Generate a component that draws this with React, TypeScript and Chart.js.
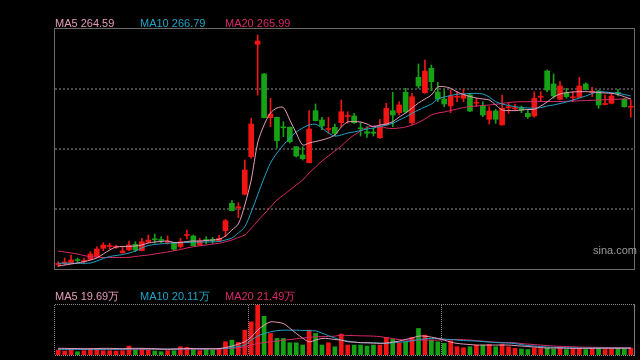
import React, { useEffect, useRef } from 'react';
import { Chart, registerables } from 'chart.js';

Chart.register(...registerables);

// ---- price data (OHLC) ----
const opens = [98.5, 100, 100.3, 103, 101.5, 103.7, 106.3, 114.7, 116.5, 115.8,
  110.3, 113, 118.7, 112.3, 121, 123.7, 123.5, 120.8, 120.7, 116.3,
  127.5, 127, 118, 123, 123, 122.3, 132.3, 159.7, 155.2, 168.7,
  206.3, 318.7, 289, 245.3, 245.7, 235.7, 235.7, 216.3, 208, 200.3,
  252.3, 243, 233.5, 235.7, 240.3, 246.5, 247, 234.7, 231.3, 230.3,
  225.3, 238, 252.3, 250.3, 270.7, 240.3, 285.7, 270.3, 294.7, 271,
  264, 257, 265.8, 264.7, 268, 259.8, 257, 243.7, 252, 238,
  255.2, 254.2, 254.7, 249.7, 247, 265.8, 292, 279, 263.7, 270.3,
  265.2, 265.7, 279, 270.8, 272, 258.5, 259.7, 270.3, 263.7, 255.8];
const highs = [101.3, 105, 108, 105, 105, 111.3, 116.3, 120.3, 119.7, 118,
  116.3, 122, 121.3, 124.7, 128, 129, 126.3, 127, 120.7, 124.7,
  133, 128, 124.7, 126.3, 125.7, 128, 143.7, 162.3, 160.3, 203,
  244.7, 328, 289.7, 264.7, 246, 241.3, 236, 216.3, 216.3, 252.3,
  259, 245.7, 245.7, 239, 263, 251.3, 249.7, 240.3, 236.3, 234.7,
  243.7, 259.7, 270.7, 261.3, 274.7, 269.7, 299, 303, 298, 280.7,
  273, 273, 271.3, 273.7, 269.7, 264.7, 261.3, 256.3, 253.7, 268,
  259.7, 259, 257, 253, 271.3, 271.3, 293, 289, 281.3, 274.7,
  271.3, 285.7, 280.3, 275.7, 272.3, 268, 269.7, 273.7, 264.7, 263];
const lows = [96.3, 98, 100, 100.3, 99, 103, 105.5, 112.3, 114, 114.7,
  109.7, 112.3, 111.3, 112, 120.3, 119.7, 120.3, 119, 112.3, 114.7,
  124, 117, 117.3, 119, 119.7, 121.7, 126.3, 152, 145.3, 168,
  204.7, 268, 245, 236.3, 215, 226.3, 220, 206, 203, 200,
  242, 233, 229.7, 227, 236.3, 239.7, 239.7, 227, 225.7, 227,
  224.7, 237.5, 236.3, 248, 250, 238, 274.7, 269.7, 272.3, 261.3,
  256.3, 250.3, 261.3, 261.3, 251.3, 256.3, 246.3, 239, 239.7, 238,
  249.7, 253, 250.3, 244.7, 245.7, 261.3, 271.3, 264.7, 263, 264.7,
  261.3, 265.3, 273, 266.3, 254.7, 258, 259, 267, 255.7, 245.7];
const closes = [99, 101, 103, 102.5, 102.3, 109, 114, 118, 117, 116.3,
  112, 118, 113, 121.3, 123, 123.2, 122.5, 121.3, 113.7, 121.3,
  128, 117.3, 122, 122.5, 122.5, 124.7, 142.3, 152.3, 155.7, 193,
  239, 322, 245.3, 249, 222.3, 235.2, 221.3, 207, 204.3, 234,
  242.3, 237, 234, 229.7, 251.3, 247, 240.3, 234.2, 229.7, 229.8,
  236.3, 254.7, 248, 258, 251, 266.3, 277, 292, 281.3, 264,
  259, 267, 266.3, 268, 252, 260.3, 248, 252, 243.7, 254.7,
  255.7, 254.7, 253, 246.3, 264.7, 266.3, 273, 267, 277, 266.3,
  265.7, 277, 273.7, 271.3, 258, 259, 267, 269.8, 256.3, 256.3];

// ---- price moving averages ----
const ma5 = [97, 98, 99, 100, 101.3, 103, 105, 109, 113, 116,
  116.5, 116.7, 117, 118, 120, 121, 121.5, 122, 120.5, 120.5,
  121.5, 122, 122, 122.5, 123, 123.7, 127, 133, 139, 158,
  183, 220, 238, 250, 255, 255.5, 243, 230, 218, 220,
  221.5, 223, 225, 228, 236, 241, 241.3, 241, 239, 236.3,
  238, 239, 241.3, 246, 250, 255, 260, 264, 268, 276,
  276.3, 274.7, 271, 268.5, 266.5, 265, 264, 263, 258, 253,
  252.5, 252.3, 253, 253.5, 253.7, 257, 261, 266, 269, 270.3,
  271, 271.3, 271.3, 271, 270.5, 270, 269.7, 268.5, 266.3, 264];
const ma10 = [99.7, 99.7, 99.7, 99.7, 99.7, 100, 102, 104.5, 106.5, 107.5,
  108.5, 110, 112, 115, 117.5, 118.5, 119.2, 119.7, 120, 120.2,
  120.5, 120.7, 121, 121, 121.2, 121.5, 123, 125, 130, 136.3,
  151, 168, 185, 200, 210, 218, 225, 231, 235, 238,
  238.7, 235, 230, 227, 228, 230, 231, 232.5, 234, 235,
  236.5, 238, 239.7, 243, 246, 249.7, 253, 256, 259, 264,
  266, 267.5, 268.7, 269, 269.5, 269.7, 269, 266, 261.3, 259,
  257.5, 256.3, 255.5, 255, 254.7, 255.5, 257, 258, 259.5, 261,
  263, 265, 267, 269.5, 271.3, 271, 270.3, 269.7, 268.5, 267];
const ma20 = [112, 111, 110, 109, 107.5, 106.3, 105.8, 105.5, 105.5, 105.5,
  105.5, 105.7, 106.5, 107.3, 108, 109, 110, 111, 112.3, 113.5,
  115, 116.3, 117.2, 118, 119, 119.7, 121.3, 123, 125.5, 128,
  134.7, 142, 149, 156, 163, 168, 173, 178, 183, 190,
  196, 202, 207, 212, 217, 223, 228, 232, 235.5, 237,
  237, 235, 234.5, 235, 236, 238, 240.5, 244, 248, 250,
  251, 252.5, 254, 255.5, 256.5, 257, 257.5, 258, 258.7, 259.5,
  260.5, 261, 261.3, 261.3, 261.5, 261.5, 261.5, 261.5, 261.5, 261.7,
  262, 262.2, 262.5, 262.7, 263, 263.2, 263.5, 263.8, 264, 264.2];

// ---- volume (万) ----
const volumes = [14.5, 11.6, 14.5, 9.6, 12.5, 19.4, 19.4, 12.5, 12.5, 11.6,
  12.5, 26.1, 14.5, 19.4, 14.5, 11.6, 9.6, 12.5, 12.5, 24.1,
  22.3, 16.5, 12.5, 16.5, 14.5, 17.4, 38.6, 43.5, 36.8, 72.5,
  96.6, 145, 113.1, 62.9, 48.4, 48.4, 35.7, 35.7, 29, 72.5,
  62.9, 29, 35.7, 24.1, 60.9, 29, 29, 29, 26.1, 29,
  29, 51.3, 45.5, 35.7, 38.6, 51.3, 77.4, 58, 43.5, 38.6,
  33.9, 41.5, 24.1, 21.2, 24.1, 29, 29, 31, 24.1, 31.9,
  24.1, 19.4, 17.4, 16, 20.3, 18.9, 20.3, 17.4, 18.9, 16,
  17.4, 20.3, 16, 17.4, 20.3, 16, 17.4, 18.9, 17.4, 20.3];
const vma5 = [19.4, 19.4, 18.9, 18.9, 18.3, 18.3, 18.9, 19.4, 19.4, 18.9,
  18.3, 19.4, 19.4, 19.4, 18.9, 18.3, 17.4, 16.8, 17.4, 18.3,
  18.9, 18.9, 18.3, 18.3, 18.3, 18.9, 21.8, 26.1, 31.9, 38.6,
  52.2, 72.5, 87, 96.6, 95.7, 91.9, 78.3, 62.9, 49.3, 38.6,
  43.5, 48.4, 47.9, 45, 43.5, 38.6, 37.7, 36.3, 35.7, 34.8,
  33.9, 34.8, 37.7, 40.6, 45.5, 49.3, 55.1, 55.1, 52.2, 48.4,
  43.5, 37.7, 33.9, 31.9, 30.5, 29, 29, 29, 29, 29,
  29, 27.6, 26.1, 24.7, 23.2, 21.8, 20.3, 20.3, 20.3, 19.7,
  19.4, 19.4, 19.4, 19.4, 19.7, 19.7, 19.7, 19.7, 19.7, 19.7];
const vma10 = [16.5, 16.5, 16.5, 16.5, 16.5, 16.5, 16.5, 16.5, 16.5, 16.8,
  16.8, 17.4, 17.4, 17.4, 17.4, 17.4, 17.4, 17.4, 17.4, 17.4,
  18, 18, 18, 18.3, 18.3, 18.3, 19.7, 21.8, 24.7, 29,
  43.5, 55.1, 62.4, 67.6, 71.1, 72.5, 72.5, 72.5, 71.6, 71.1,
  70.5, 63.8, 56.6, 49.3, 43.5, 40.6, 37.7, 35.7, 35.7, 35.7,
  34.8, 33.9, 35.7, 37.7, 38.6, 41.5, 45, 47.3, 48.4, 47.9,
  46.4, 45, 43.5, 42.1, 41.5, 40.6, 39.2, 37.7, 36.3, 35.7,
  34.8, 33.4, 30.5, 27.6, 26.1, 24.7, 23.2, 22.3, 21.8, 21.2,
  20.9, 20.3, 20.3, 20.3, 20.3, 20.3, 20.1, 20.1, 20.1, 20.1];
const vma20 = [16.5, 16.5, 16.5, 16.5, 16.5, 16.5, 16.5, 16.5, 16.5, 16.5,
  16.5, 16.5, 16.5, 16.5, 16.5, 16.5, 16.5, 16.5, 16.5, 16.5,
  16.8, 16.8, 17.1, 17.1, 17.4, 17.4, 18.3, 19.4, 20.9, 23.2,
  29, 33.4, 36.3, 38.6, 40.6, 43.5, 45, 47.3, 49.3, 51.3,
  53.1, 53.7, 54.2, 55.1, 58, 57.1, 56.6, 56, 55.7, 55.1,
  53.7, 50.8, 47.9, 45, 43.5, 43.5, 43.5, 43.5, 43.5, 43.5,
  44.4, 45, 45.5, 45, 43.5, 42.1, 40.6, 38.6, 37.7, 36.8,
  36.3, 35.7, 33.4, 31.9, 30.5, 29, 27.6, 26.1, 25.2, 24.7,
  24.1, 23.2, 22.9, 22.6, 22.3, 22, 21.8, 21.8, 21.5, 21.5];

// month boundaries (index of first day of new month)
const monthStarts = [30, 60];

const legendPrice = ['MA5 264.59', 'MA10 266.79', 'MA20 265.99'];
const legendVolume = ['MA5 19.69万', 'MA10 20.11万', 'MA20 21.49万'];

const RED = '#f31414';
const GREEN = '#15a315';
const C5 = '#e79bbb';
const C10 = '#1fa3c6';
const C20 = '#d9296a';

const labels = opens.map((_, i) => String(i + 1));
const up = opens.map((o, i) => closes[i] >= o);
const candleColors = up.map((u) => (u ? RED : GREEN));

const lineDs = (data: number[], color: string) => ({
  type: 'line' as const,
  data,
  borderColor: color,
  borderWidth: 1,
  pointRadius: 0,
  tension: 0.3,
  fill: false,
});

export default function App() {
  const priceRef = useRef<HTMLCanvasElement>(null);
  const volRef = useRef<HTMLCanvasElement>(null);

  useEffect(() => {
    const priceFrame = {
      id: 'priceFrame',
      beforeDatasetsDraw(chart: any) {
        const { ctx, chartArea: a, scales } = chart;
        ctx.save();
        ctx.strokeStyle = '#474747';
        ctx.lineWidth = 2;
        ctx.setLineDash([2, 2]);
        [154, 214, 274].forEach((v) => {
          const y = Math.round(scales.y.getPixelForValue(v));
          ctx.beginPath();
          ctx.moveTo(a.left, y);
          ctx.lineTo(a.right, y);
          ctx.stroke();
        });
        ctx.restore();
      },
      afterDraw(chart: any) {
        const { ctx, chartArea: a } = chart;
        ctx.save();
        ctx.strokeStyle = '#6a6a6a';
        ctx.lineWidth = 1;
        ctx.strokeRect(a.left - 0.5, a.top - 0.5, a.right - a.left + 1, a.bottom - a.top + 1);
        ctx.restore();
      },
    };

    const volFrame = {
      id: 'volFrame',
      beforeDatasetsDraw(chart: any) {
        const { ctx, chartArea: a, scales } = chart;
        ctx.save();
        ctx.strokeStyle = '#8a8a8a';
        ctx.lineWidth = 1;
        ctx.setLineDash([1, 1]);
        monthStarts.forEach((m) => {
          const x = Math.round((scales.x.getPixelForValue(m - 1) + scales.x.getPixelForValue(m)) / 2) + 0.5;
          ctx.beginPath();
          ctx.moveTo(x, a.top);
          ctx.lineTo(x, a.bottom);
          ctx.stroke();
        });
        ctx.restore();
      },
      afterDraw(chart: any) {
        const { ctx, chartArea: a } = chart;
        ctx.save();
        ctx.strokeStyle = '#8a8a8a';
        ctx.lineWidth = 1;
        ctx.setLineDash([1, 1]);
        ctx.beginPath();
        ctx.moveTo(a.left, a.top - 0.5);
        ctx.lineTo(a.right, a.top - 0.5);
        ctx.moveTo(a.left, a.bottom + 0.5);
        ctx.lineTo(a.right, a.bottom + 0.5);
        ctx.moveTo(a.left - 0.5, a.top);
        ctx.lineTo(a.left - 0.5, a.bottom);
        ctx.stroke();
        ctx.setLineDash([]);
        ctx.strokeStyle = '#7a7a7a';
        ctx.beginPath();
        ctx.moveTo(a.right + 0.5, a.top - 1);
        ctx.lineTo(a.right + 0.5, a.bottom + 1);
        ctx.stroke();
        ctx.restore();
      },
    };

    const common = {
      animation: false as const,
      responsive: false,
      maintainAspectRatio: false,
      events: [] as any[],
      plugins: { legend: { display: false }, tooltip: { enabled: false } },
    };

    const priceChart = new Chart(priceRef.current!, {
      type: 'bar',
      data: {
        labels,
        datasets: [
          lineDs(ma5, C5) as any,
          lineDs(ma10, C10) as any,
          lineDs(ma20, C20) as any,
          {
            type: 'bar',
            data: opens.map((o, i) => [o, closes[i]]),
            backgroundColor: candleColors,
            borderWidth: 0,
            barThickness: 5,
            minBarLength: 1,
            grouped: false,
          } as any,
          {
            type: 'bar',
            data: lows.map((l, i) => [l, highs[i]]),
            backgroundColor: candleColors,
            borderWidth: 0,
            barThickness: 1,
            grouped: false,
          } as any,
        ],
      },
      options: {
        ...common,
        layout: { padding: { left: 55, right: 6, top: 29, bottom: 11 } },
        scales: {
          x: { display: false, offset: true },
          y: { display: false, min: 94, max: 334 },
        },
      },
      plugins: [priceFrame],
    });

    const volChart = new Chart(volRef.current!, {
      type: 'bar',
      data: {
        labels,
        datasets: [
          lineDs(vma5, C5) as any,
          lineDs(vma10, C10) as any,
          lineDs(vma20, C20) as any,
          {
            type: 'bar',
            data: volumes,
            backgroundColor: candleColors,
            borderWidth: 0,
            barThickness: 4,
            grouped: false,
          } as any,
        ],
      },
      options: {
        ...common,
        layout: { padding: { left: 55, right: 6, top: 25, bottom: 5 } },
        scales: {
          x: { display: false, offset: true },
          y: { display: false, min: 0, max: 146 },
        },
      },
      plugins: [volFrame],
    });

    return () => {
      priceChart.destroy();
      volChart.destroy();
    };
  }, []);

  const font = '"Liberation Sans", Arial, sans-serif';
  const legendColors = [C5, C10, C20];
  const legendX = [55, 140, 225];

  return (
    <div
      style={{
        position: 'fixed',
        left: 0,
        top: 0,
        width: 640,
        height: 360,
        background: '#000',
        overflow: 'hidden',
        fontFamily: font,
      }}
    >
      <canvas ref={priceRef} width={640} height={280} style={{ position: 'absolute', left: 0, top: 0, display: 'block' }} />
      <canvas ref={volRef} width={640} height={80} style={{ position: 'absolute', left: 0, top: 280, display: 'block' }} />
      {legendPrice.map((t, i) => (
        <span
          key={'p' + i}
          style={{ position: 'absolute', left: legendX[i], top: 17, fontSize: 11, lineHeight: '12px', color: legendColors[i], whiteSpace: 'nowrap' }}
        >
          {t}
        </span>
      ))}
      {legendVolume.map((t, i) => (
        <span
          key={'v' + i}
          style={{ position: 'absolute', left: legendX[i], top: 290, fontSize: 11, lineHeight: '12px', color: legendColors[i], whiteSpace: 'nowrap' }}
        >
          {t}
        </span>
      ))}
      <span style={{ position: 'absolute', right: 3, top: 244, fontSize: 11, lineHeight: '12px', color: '#9a9a9a', whiteSpace: 'nowrap' }}>sina.com</span>
    </div>
  );
}
